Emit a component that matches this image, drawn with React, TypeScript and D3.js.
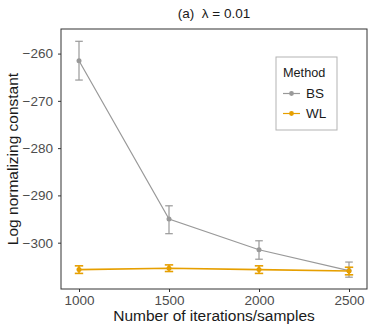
import * as d3 from "d3";
import { useEffect, useRef } from "react";

const iterations = [1000, 1500, 2000, 2500];
const bsMean = [-261.5, -295.0, -301.5, -305.9];
const bsLow = [-265.6, -298.1, -303.5, -307.3];
const bsHigh = [-257.4, -292.2, -299.6, -304.1];
const wlMean = [-305.7, -305.4, -305.7, -306.0];
const wlLow = [-306.5, -306.1, -306.5, -306.8];
const wlHigh = [-304.9, -304.7, -304.9, -305.2];
const yTicks = [-260, -270, -280, -290, -300];
const methods = ["BS", "WL"];
const colors = ["#999999", "#E69F00"];

const W = 374, H = 332;
const margin = { top: 29, right: 7, bottom: 43, left: 61 };

const App = () => {
  const ref = useRef<SVGSVGElement | null>(null);

  useEffect(() => {
    const svg = d3.select(ref.current);
    svg.selectAll("*").remove();
    const font = "'Liberation Sans', Arial, sans-serif";
    const width = W - margin.left - margin.right;
    const height = H - margin.top - margin.bottom;

    const x = d3.scaleLinear().domain([900, 2600]).range([0, width]);
    const y = d3.scaleLinear().domain([-309.8, -254.8]).range([height, 0]);

    const g = svg.append("g")
      .attr("transform", "translate(" + margin.left + "," + margin.top + ")");

    // axes
    const xAxis = g.append("g")
      .attr("transform", "translate(0," + height + ")")
      .call(d3.axisBottom(x).tickValues(iterations).tickSize(3).tickFormat(d3.format("d")));
    const yAxis = g.append("g")
      .call(d3.axisLeft(y).tickValues(yTicks).tickSize(3).tickFormat((d) => "\u2212" + Math.abs(+d)));
    [xAxis, yAxis].forEach((a) => {
      a.select(".domain").remove();
      a.selectAll("line").attr("stroke", "#333333");
      a.selectAll("text").attr("fill", "#4D4D4D").style("font-size", "13.5px").style("font-family", font);
    });
    xAxis.selectAll("text").attr("dy", "0.71em").attr("y", 6);
    yAxis.selectAll("text").attr("x", -8);

    g.append("rect")
      .attr("width", width).attr("height", height)
      .attr("fill", "none").attr("stroke", "#333333").attr("stroke-width", 1);

    const series = [
      { mean: bsMean, low: bsLow, high: bsHigh, lw: 1.2, whisk: 3.8 },
      { mean: wlMean, low: wlLow, high: wlHigh, lw: 1.6, whisk: 4.2 },
    ];

    series.forEach((s, i) => {
      const c = colors[i];
      const line = d3.line<number>().x((_, j) => x(iterations[j])).y((d) => y(d));
      g.append("path").attr("d", line(s.mean)).attr("fill", "none")
        .attr("stroke", c).attr("stroke-width", s.lw);
      iterations.forEach((it, j) => {
        const cx = x(it);
        g.append("line").attr("x1", cx).attr("x2", cx)
          .attr("y1", y(s.low[j])).attr("y2", y(s.high[j]))
          .attr("stroke", c).attr("stroke-width", s.lw);
        [s.low[j], s.high[j]].forEach((v) => {
          g.append("line").attr("x1", cx - s.whisk).attr("x2", cx + s.whisk)
            .attr("y1", y(v)).attr("y2", y(v))
            .attr("stroke", c).attr("stroke-width", s.lw);
        });
        g.append("circle").attr("cx", cx).attr("cy", y(s.mean[j])).attr("r", 2.5).attr("fill", c);
      });
    });

    // legend
    const lg = svg.append("g").attr("transform", "translate(276,57)");
    lg.append("rect").attr("width", 61).attr("height", 73)
      .attr("fill", "white").attr("stroke", "#B3B3B3").attr("stroke-width", 1);
    lg.append("text").attr("x", 7).attr("y", 20).text("Method")
      .style("font-size", "12.7px").style("font-family", font).attr("fill", "#1A1A1A");
    methods.forEach((m, i) => {
      const ly = 36.5 + i * 20;
      lg.append("line").attr("x1", 7).attr("x2", 24).attr("y1", ly).attr("y2", ly)
        .attr("stroke", colors[i]).attr("stroke-width", 1.2);
      lg.append("circle").attr("cx", 15.5).attr("cy", ly).attr("r", 2.4).attr("fill", colors[i]);
      lg.append("text").attr("x", 30).attr("y", ly).attr("dy", "0.36em").text(m)
        .style("font-size", "13.5px").style("font-family", font).attr("fill", "#1A1A1A");
    });

    // titles
    svg.append("text").attr("x", margin.left + width / 2).attr("y", 17.5)
      .attr("text-anchor", "middle").style("font-size", "13.5px").style("font-family", font)
      .style("white-space", "pre")
      .attr("fill", "#1A1A1A").text("(a)  \u03BB = 0.01");
    svg.append("text").attr("x", margin.left + width / 2).attr("y", 321)
      .attr("text-anchor", "middle").style("font-size", "15.5px").style("font-family", font)
      .attr("fill", "#1A1A1A").text("Number of iterations/samples");
    svg.append("text").attr("transform", "rotate(-90)")
      .attr("x", -(margin.top + height / 2)).attr("y", 18)
      .attr("text-anchor", "middle").style("font-size", "15.5px").style("font-family", font)
      .attr("fill", "#1A1A1A").text("Log normalizing constant");
  }, []);

  return (
    <svg ref={ref} width={W} height={H} style={{ position: "absolute", left: 0, top: 0, background: "white" }} />
  );
};

export default App;
